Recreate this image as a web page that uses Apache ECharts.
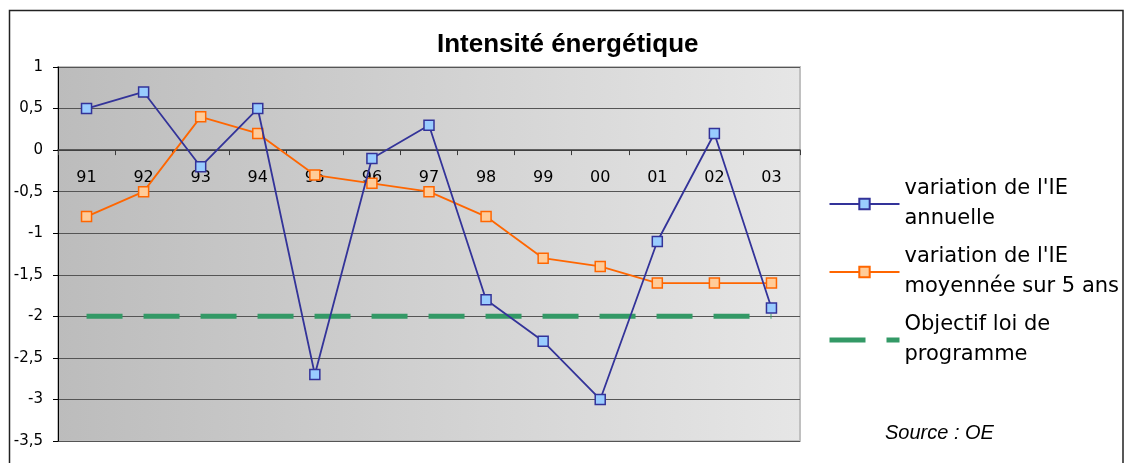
<!DOCTYPE html>
<html>
<head>
<meta charset="utf-8">
<script src="https://cdn.jsdelivr.net/npm/echarts@6/dist/echarts.min.js"></script>
<style>
html,body{margin:0;padding:0;background:#fff;}
#chart{width:1125px;height:463px;}
</style>
</head>
<body>
<div id="chart"></div>
<script>
const categories = ['91','92','93','94','95','96','97','98','99','00','01','02','03'];
const annualVariation = [0.5, 0.7, -0.2, 0.5, -2.7, -0.1, 0.3, -1.8, -2.3, -3.0, -1.1, 0.2, -1.9];
const fiveYearAverage = [-0.8, -0.5, 0.4, 0.2, -0.3, -0.4, -0.5, -0.8, -1.3, -1.4, -1.6, -1.6, -1.6];
const programTarget = [-2, -2, -2, -2, -2, -2, -2, -2, -2, -2, -2, -2, -2];
const seriesNames = ["variation de l'IE\nannuelle", "variation de l'IE\nmoyennée sur 5 ans", "Objectif loi de\nprogramme"];
const titleText = 'Intensité énergétique';
const sourceText = 'Source : OE';
const yMin = -3.5, yMax = 1, yStep = 0.5;

const chart = echarts.init(document.getElementById('chart'), null, {renderer: 'canvas'});
const AXF = 'DejaVu Sans';
const gridTop = 67, gridBottom = 22, chartH = 463;
const plotH = chartH - gridTop - gridBottom;
// move the category axis up from the bottom edge to the value 0
const zeroOffset = -plotH * (0 - yMin) / (yMax - yMin);

chart.setOption({
  animation: false,
  backgroundColor: '#ffffff',
  title: [
    {text: titleText, left: 437, top: 32, padding: 0,
     textStyle: {fontFamily: 'Liberation Sans', fontWeight: 'bold', fontSize: 26, color: '#000'}},
    {text: sourceText, left: 885, top: 423, padding: 0,
     textStyle: {fontFamily: 'Liberation Sans', fontStyle: 'italic', fontWeight: 'normal', fontSize: 20, color: '#000'}}
  ],
  graphic: [{
    type: 'rect', silent: true, z: 100,
    shape: {x: 9.5, y: 10.5, width: 1113.5, height: 470},
    style: {fill: 'none', stroke: '#222', lineWidth: 1.5}
  }],
  legend: {
    orient: 'vertical', left: 827, top: 159, padding: 0,
    itemWidth: 70, itemHeight: 13, itemGap: -22,
    selectedMode: false,
    textStyle: {fontFamily: AXF, fontSize: 21, color: '#000', lineHeight: 30, padding: [30, 0, 0, 0]},
    lineStyle: {width: 'inherit', type: 'inherit'},
    data: [
      {name: seriesNames[0]},
      {name: seriesNames[1]},
      {name: seriesNames[2], itemStyle: {opacity: 0, borderWidth: 0}}
    ]
  },
  grid: {
    left: 58, right: 325, top: gridTop, bottom: gridBottom, show: true,
    outerBoundsMode: 'none', containLabel: false,
    borderColor: '#c0c0c0', borderWidth: 2,
    backgroundColor: new echarts.graphic.LinearGradient(0, 0, 1, 0, [
      {offset: 0, color: '#bcbcbc'}, {offset: 1, color: '#e6e6e6'}
    ])
  },
  xAxis: {
    type: 'category', data: categories, boundaryGap: true,
    position: 'bottom', offset: zeroOffset,
    axisLine: {onZero: false, lineStyle: {color: '#3a3a3a', width: 1.5}},
    axisTick: {show: true, length: 5, lineStyle: {color: '#3a3a3a'}},
    axisLabel: {margin: 20, fontFamily: AXF, fontSize: 16, color: '#000'},
    splitLine: {show: false}
  },
  yAxis: {
    type: 'value', min: yMin, max: yMax, interval: yStep,
    axisLine: {show: true, lineStyle: {color: '#000', width: 1}},
    axisTick: {show: true, length: 5, lineStyle: {color: '#000'}},
    axisLabel: {margin: 15, fontFamily: AXF, fontSize: 15, color: '#000',
      formatter: v => String(Math.round(v * 10) / 10).replace('.', ',')},
    splitLine: {show: true, lineStyle: {color: '#555', width: 1}}
  },
  series: [
    {name: seriesNames[0], type: 'line', data: annualVariation, z: 3,
     symbol: 'rect', symbolSize: 10,
     lineStyle: {color: '#333399', width: 1.8},
     itemStyle: {color: '#99ccff', borderColor: '#333399', borderWidth: 1.5}},
    {name: seriesNames[1], type: 'line', data: fiveYearAverage, z: 2,
     symbol: 'rect', symbolSize: 10,
     lineStyle: {color: '#ff6600', width: 1.8},
     itemStyle: {color: '#ffcc99', borderColor: '#ff6600', borderWidth: 1.5}},
    {name: seriesNames[2], type: 'line', data: programTarget, z: 1,
     symbol: 'none',
     lineStyle: {color: '#339966', width: 5, type: [36, 21], cap: 'butt'},
     itemStyle: {color: '#339966'}}
  ]
});
</script>
</body>
</html>
